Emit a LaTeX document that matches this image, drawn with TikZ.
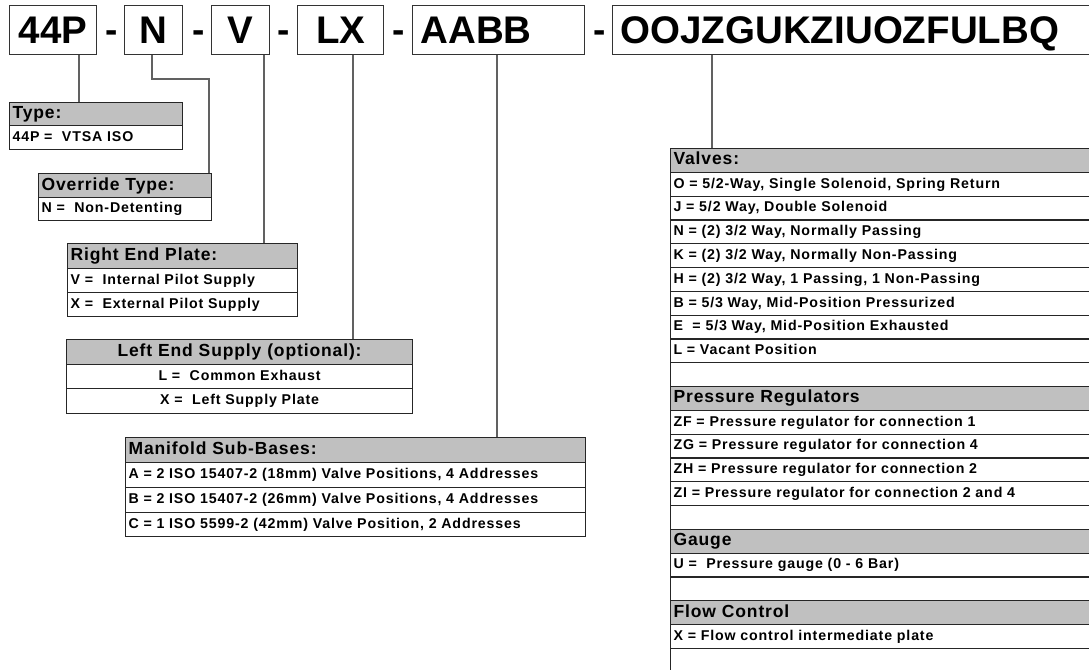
\documentclass[tikz,border=0pt]{standalone}
\usepackage{fontspec}
\setmainfont{Liberation Sans}
\newfontfamily\codefont{Liberation Sans}
\newfontfamily\hdrfamily{Liberation Sans}[LetterSpace=5]
\newfontfamily\rowfamily{Liberation Sans}[LetterSpace=6]
\definecolor{hdrgray}{HTML}{C0C0C0}
\newcommand\tcell[7]{%
  \pgfmathsetmacro{\tcw}{#4-6}%
  \node[#6, minimum height=#5pt, text width=\tcw pt, anchor=north west] (#1) at (#2,#3) {#7};}
\begin{document}
\begin{tikzpicture}[x=1pt,y=-1pt,
  codebox/.style={draw=black!80, line width=1.2pt, inner xsep=0pt, inner ysep=0pt, minimum height=49pt,
    anchor=north west, text height=27.5pt, text depth=0pt, font=\codefont\bfseries\fontsize{38.5}{41}\selectfont},
  codeleft/.style={codebox, align=left, inner xsep=8pt},
  dashtxt/.style={inner sep=0pt, anchor=base, font=\codefont\bfseries\fontsize{37}{40}\selectfont},
  hdr/.style={draw=black!85, line width=1.1pt, fill=hdrgray, align=left, inner xsep=3pt, inner ysep=0pt,
    text height=12.5pt, text depth=3.5pt, font=\hdrfamily\bfseries\fontsize{17.5}{19}\selectfont},
  hdrc/.style={hdr, align=center},
  rowc/.style={draw=black!85, line width=1.1pt, fill=white, align=left, inner xsep=3pt, inner ysep=0pt,
    text height=10.5pt, text depth=3pt, font=\rowfamily\bfseries\fontsize{14.2}{16}\selectfont},
  rowcc/.style={rowc, align=center},
  conn/.style={draw=black!62, line width=1.4pt}
]
\useasboundingbox (0,0) rectangle (1089,669);
\fill[white] (0,0) rectangle (1089,669);

% ---- code boxes
\node[codebox, minimum width=87pt] (c44p) at (9,5) {44P};
\node[dashtxt] (d1) at (112,43) {-};
\node[codebox, minimum width=58pt] (cN) at (124,5) {N};
\node[dashtxt] (d2) at (199,43) {-};
\node[codebox, minimum width=58pt] (cV) at (211,5) {V};
\node[dashtxt] (d3) at (284,43) {-};
\node[codebox, minimum width=86pt] (cLX) at (297,5) {LX};
\node[dashtxt] (d4) at (399,43) {-};
\node[codeleft, text width=156pt] (cAB) at (412,5) {AABB};
\node[dashtxt] (d5) at (600,43) {-};
\node[codeleft, text width=467pt] (cOO) at (612,5) {OOJZGUKZIUOZFULBQ};

% ---- connector helper coordinates
\coordinate (x44) at (79,0);
\coordinate (xN) at (152,0);
\coordinate (kN) at (209,79);
\coordinate (xV) at (264,0);
\coordinate (xLX) at (353,0);
\coordinate (xAB) at (497,0);
\coordinate (xOO) at (712,0);

% ---- tables
\tcell{tType}{9}{102}{173}{23}{hdr}{Type:}
\tcell{tTypeA}{9}{125}{173}{24}{rowc}{44P = \ VTSA ISO}

\tcell{tOver}{38}{173}{173}{24}{hdr}{Override Type:}
\tcell{tOverA}{38}{197}{173}{23}{rowc}{N = \ Non-Detenting}

\tcell{tRight}{67}{243}{230}{25}{hdr}{Right End Plate:}
\tcell{tRightA}{67}{268}{230}{24}{rowc}{V = \ Internal Pilot Supply}
\tcell{tRightB}{67}{292}{230}{24}{rowc}{X = \ External Pilot Supply}

\tcell{tLeft}{66}{339}{346}{25}{hdrc}{Left End Supply (optional):}
\tcell{tLeftA}{66}{364}{346}{24}{rowcc}{L = \ Common Exhaust}
\tcell{tLeftB}{66}{388}{346}{25}{rowcc}{X = \ Left Supply Plate}

\tcell{tMan}{125}{437}{460}{25}{hdr}{Manifold Sub-Bases:}
\tcell{tManA}{125}{462}{460}{25}{rowc}{A = 2 ISO 15407-2 (18mm) Valve Positions, 4 Addresses}
\tcell{tManB}{125}{487}{460}{24.5}{rowc}{B = 2 ISO 15407-2 (26mm) Valve Positions, 4 Addresses}
\tcell{tManC}{125}{511.5}{460}{24.5}{rowc}{C = 1 ISO 5599-2 (42mm) Valve Position, 2 Addresses}

\tcell{v0}{670}{148.0}{425}{23.8}{hdr}{Valves:}
\tcell{v1}{670}{171.8}{425}{23.8}{rowc}{O = 5/2-Way, Single Solenoid, Spring Return}
\tcell{v2}{670}{195.6}{425}{23.8}{rowc}{J = 5/2 Way, Double Solenoid}
\tcell{v3}{670}{219.4}{425}{23.8}{rowc}{N = (2) 3/2 Way, Normally Passing}
\tcell{v4}{670}{243.2}{425}{23.8}{rowc}{K = (2) 3/2 Way, Normally Non-Passing}
\tcell{v5}{670}{267.0}{425}{23.8}{rowc}{H = (2) 3/2 Way, 1 Passing, 1 Non-Passing}
\tcell{v6}{670}{290.8}{425}{23.8}{rowc}{B = 5/3 Way, Mid-Position Pressurized}
\tcell{v7}{670}{314.6}{425}{23.8}{rowc}{E \ = 5/3 Way, Mid-Position Exhausted}
\tcell{v8}{670}{338.4}{425}{23.8}{rowc}{L = Vacant Position}
\tcell{v9}{670}{362.2}{425}{23.8}{rowc}{}
\tcell{v10}{670}{386.0}{425}{23.8}{hdr}{Pressure Regulators}
\tcell{v11}{670}{409.8}{425}{23.8}{rowc}{ZF = Pressure regulator for connection 1}
\tcell{v12}{670}{433.6}{425}{23.8}{rowc}{ZG = Pressure regulator for connection 4}
\tcell{v13}{670}{457.4}{425}{23.8}{rowc}{ZH = Pressure regulator for connection 2}
\tcell{v14}{670}{481.2}{425}{23.8}{rowc}{ZI = Pressure regulator for connection 2 and 4}
\tcell{v15}{670}{505.0}{425}{23.8}{rowc}{}
\tcell{v16}{670}{528.8}{425}{23.8}{hdr}{Gauge}
\tcell{v17}{670}{552.6}{425}{23.8}{rowc}{U = \ Pressure gauge (0 - 6 Bar)}
\tcell{v18}{670}{576.4}{425}{23.8}{rowc}{}
\tcell{v19}{670}{600.2}{425}{23.8}{hdr}{Flow Control}
\tcell{v20}{670}{624.0}{425}{23.8}{rowc}{X = Flow control intermediate plate}
\tcell{v21}{670}{647.8}{425}{23.8}{rowc}{}

% ---- connectors
\draw[conn] (c44p.south -| x44) -- (tType.north -| x44);
\draw[conn] (cN.south -| xN) |- (kN) -- (tOver.north -| kN);
\draw[conn] (cV.south -| xV) -- (tRight.north -| xV);
\draw[conn] (cLX.south -| xLX) -- (tLeft.north -| xLX);
\draw[conn] (cAB.south -| xAB) -- (tMan.north -| xAB);
\draw[conn] (cOO.south -| xOO) -- (v0.north -| xOO);
\end{tikzpicture}
\end{document}
